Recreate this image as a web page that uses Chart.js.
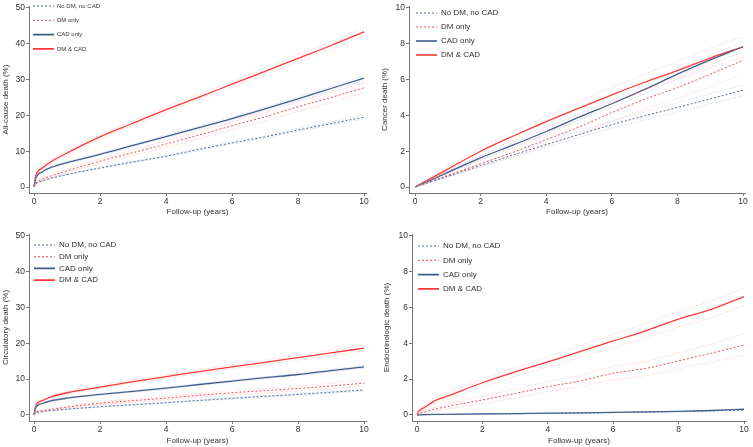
<!DOCTYPE html>
<html>
<head>
<meta charset="utf-8">
<script src="https://cdn.jsdelivr.net/npm/chart.js@4.4.1/dist/chart.umd.min.js"></script>
<style>
  body { margin: 0; background: #fff; width: 753px; height: 447px; overflow: hidden; position: relative; }
  canvas { position: absolute; }
</style>
</head>
<body>
<canvas id="c1" width="376" height="223" style="left:0;top:0;width:376px;height:223px"></canvas>
<canvas id="c2" width="377" height="223" style="left:376px;top:0;width:377px;height:223px"></canvas>
<canvas id="c3" width="376" height="224" style="left:0;top:223px;width:376px;height:224px"></canvas>
<canvas id="c4" width="377" height="224" style="left:376px;top:223px;width:377px;height:224px"></canvas>
<script>
// follow-up time points (years)
const years = [0, 0.05, 0.25, 0.5, 1, 2, 3, 4, 5, 6, 7, 8, 9, 10];
const groups = ['No DM, no CAD', 'DM only', 'CAD only', 'DM & CAD'];
const xTicks = [0, 2, 4, 6, 8, 10];
const yTicks50 = [0, 10, 20, 30, 40, 50];
const yTicks10 = [0, 2, 4, 6, 8, 10];

// all-cause death (%)
const allNoDm   = [0, 0.8, 1.7, 2.4, 3.5, 5.3, 7.0, 8.6, 10.5, 12.3, 14.0, 15.9, 17.7, 19.5];
const allNoDmLo = [0, 0.7, 1.6, 2.3, 3.4, 5.1, 6.8, 8.4, 10.2, 12.0, 13.7, 15.5, 17.3, 19.0];
const allNoDmHi = [0, 0.9, 1.8, 2.5, 3.6, 5.5, 7.2, 8.8, 10.8, 12.6, 14.3, 16.3, 18.1, 20.0];
const allDm     = [0, 1.0, 2.2, 3.0, 4.5, 7.2, 9.6, 12.0, 14.5, 17.1, 19.6, 22.4, 25.0, 27.7];
const allDmLo   = [0, 0.8, 1.9, 2.6, 4.0, 6.5, 8.8, 11.1, 13.5, 16.0, 18.4, 21.1, 23.6, 26.3];
const allDmHi   = [0, 1.2, 2.5, 3.4, 5.0, 7.9, 10.4, 12.9, 15.5, 18.2, 20.8, 23.7, 26.4, 29.1];
const allCad    = [0, 2.3, 4.2, 5.4, 6.8, 9.1, 11.6, 14.1, 16.6, 19.1, 21.8, 24.6, 27.5, 30.4];
const allCadLo  = [0, 2.1, 4.0, 5.2, 6.5, 8.8, 11.3, 13.7, 16.2, 18.7, 21.3, 24.0, 26.9, 29.7];
const allCadHi  = [0, 2.5, 4.4, 5.6, 7.1, 9.4, 11.9, 14.5, 17.0, 19.5, 22.3, 25.2, 28.1, 31.1];
const allBoth   = [0, 3.0, 5.3, 7.0, 9.5, 14.0, 17.8, 21.6, 25.1, 28.7, 32.3, 35.9, 39.5, 43.3];
const allBothLo = [0, 2.6, 4.8, 6.5, 9.0, 13.4, 17.1, 20.8, 24.3, 27.8, 31.3, 34.9, 38.4, 42.2];
const allBothHi = [0, 3.4, 5.8, 7.5, 10.0, 14.6, 18.5, 22.4, 25.9, 29.6, 33.3, 36.9, 40.6, 44.4];

// cancer death (%)
const canNoDm   = [0, 0.03, 0.15, 0.3, 0.6, 1.2, 1.8, 2.37, 2.93, 3.48, 3.97, 4.44, 4.92, 5.4];
const canNoDmLo = [0, 0.025, 0.14, 0.28, 0.56, 1.12, 1.68, 2.22, 2.75, 3.27, 3.73, 4.18, 4.64, 5.1];
const canNoDmHi = [0, 0.035, 0.16, 0.32, 0.64, 1.28, 1.92, 2.52, 3.11, 3.69, 4.21, 4.7, 5.2, 5.7];
const canDm     = [0, 0.03, 0.16, 0.33, 0.65, 1.3, 1.95, 2.65, 3.35, 4.15, 4.9, 5.55, 6.3, 7.07];
const canDmLo   = [0, 0.025, 0.13, 0.27, 0.55, 1.12, 1.7, 2.32, 2.95, 3.67, 4.35, 4.93, 5.6, 6.3];
const canDmHi   = [0, 0.035, 0.19, 0.39, 0.75, 1.48, 2.2, 2.98, 3.75, 4.63, 5.45, 6.17, 7.0, 7.85];
const canCad    = [0, 0.04, 0.2, 0.4, 0.82, 1.63, 2.35, 3.1, 3.9, 4.65, 5.45, 6.3, 7.1, 7.83];
const canCadLo  = [0, 0.035, 0.18, 0.37, 0.76, 1.53, 2.22, 2.95, 3.72, 4.45, 5.22, 6.05, 6.83, 7.55];
const canCadHi  = [0, 0.045, 0.22, 0.43, 0.88, 1.73, 2.48, 3.25, 4.08, 4.85, 5.68, 6.55, 7.37, 8.1];
const canBoth   = [0, 0.05, 0.25, 0.5, 1.0, 2.0, 2.85, 3.65, 4.4, 5.15, 5.85, 6.5, 7.2, 7.83];
const canBothLo = [0, 0.04, 0.21, 0.43, 0.88, 1.8, 2.6, 3.35, 4.05, 4.75, 5.4, 6.0, 6.65, 7.25];
const canBothHi = [0, 0.06, 0.29, 0.57, 1.12, 2.2, 3.1, 3.95, 4.75, 5.55, 6.3, 7.0, 7.75, 8.4];

// circulatory death (%)
const cirNoDm   = [0, 0.5, 0.9, 1.2, 1.6, 2.3, 2.85, 3.43, 4.05, 4.64, 5.2, 5.75, 6.35, 6.95];
const cirNoDmLo = [0, 0.45, 0.85, 1.12, 1.5, 2.18, 2.71, 3.27, 3.87, 4.44, 4.98, 5.51, 6.09, 6.67];
const cirNoDmHi = [0, 0.55, 0.95, 1.28, 1.7, 2.42, 2.99, 3.59, 4.23, 4.84, 5.42, 5.99, 6.61, 7.23];
const cirDm     = [0, 0.7, 1.2, 1.5, 2.2, 3.25, 4.0, 4.7, 5.5, 6.2, 6.8, 7.4, 8.1, 8.9];
const cirDmLo   = [0, 0.55, 1.0, 1.3, 1.9, 2.85, 3.55, 4.2, 4.95, 5.6, 6.15, 6.7, 7.35, 8.05];
const cirDmHi   = [0, 0.85, 1.4, 1.7, 2.5, 3.65, 4.45, 5.2, 6.05, 6.8, 7.45, 8.1, 8.85, 9.75];
const cirCad    = [0, 2.0, 3.2, 3.9, 4.7, 5.75, 6.6, 7.5, 8.5, 9.46, 10.4, 11.3, 12.4, 13.45];
const cirCadLo  = [0, 1.85, 3.05, 3.75, 4.5, 5.55, 6.38, 7.26, 8.24, 9.18, 10.1, 10.98, 12.05, 13.08];
const cirCadHi  = [0, 2.15, 3.35, 4.05, 4.9, 5.95, 6.82, 7.74, 8.76, 9.74, 10.7, 11.62, 12.75, 13.82];
const cirBoth   = [0, 2.5, 4.0, 5.0, 6.2, 7.8, 9.3, 10.7, 12.1, 13.45, 14.7, 16.0, 17.3, 18.65];
const cirBothLo = [0, 2.2, 3.7, 4.7, 5.8, 7.4, 8.85, 10.2, 11.55, 12.85, 14.05, 15.3, 16.55, 17.9];
const cirBothHi = [0, 2.8, 4.3, 5.3, 6.6, 8.2, 9.75, 11.2, 12.65, 14.05, 15.35, 16.7, 18.05, 19.45];

// endocrinologic death (%)
const endNoDm   = [0, 0.003, 0.012, 0.02, 0.03, 0.05, 0.07, 0.09, 0.11, 0.13, 0.16, 0.19, 0.23, 0.28];
const endDm     = [0, 0.05, 0.18, 0.3, 0.5, 0.84, 1.2, 1.58, 1.9, 2.33, 2.6, 3.02, 3.45, 3.91];
const endDmLo   = [0, 0.02, 0.1, 0.18, 0.35, 0.64, 0.95, 1.3, 1.58, 1.96, 2.2, 2.57, 2.95, 3.32];
const endDmHi   = [0, 0.08, 0.26, 0.42, 0.65, 1.04, 1.45, 1.86, 2.22, 2.7, 3.0, 3.47, 3.95, 4.55];
const endCad    = [0, 0.005, 0.02, 0.03, 0.04, 0.06, 0.08, 0.1, 0.12, 0.15, 0.17, 0.2, 0.25, 0.32];
const endBoth   = [0, 0.2, 0.45, 0.75, 1.1, 1.8, 2.4, 2.96, 3.55, 4.13, 4.7, 5.35, 5.9, 6.61];
const endBothLo = [0, 0.12, 0.33, 0.6, 0.92, 1.58, 2.15, 2.67, 3.22, 3.77, 4.3, 4.92, 5.44, 6.12];
const endBothHi = [0, 0.28, 0.57, 0.9, 1.28, 2.02, 2.65, 3.25, 3.88, 4.49, 5.1, 5.78, 6.36, 7.1];

const FONT = 'Liberation Sans, Arial, sans-serif';
const TXT = '#333';
const AXIS = '#777';
const styles = [
  { color: '#4d6c9b', dash: [2, 2], width: 1, ci: 'rgba(140,160,200,0.5)' },
  { color: '#ff4848', dash: [2, 2], width: 1, ci: 'rgba(255,140,140,0.55)' },
  { color: '#3e5c88', dash: [], width: 1.3, ci: 'rgba(140,160,200,0.5)' },
  { color: '#ff3838', dash: [], width: 1.3, ci: 'rgba(255,140,140,0.55)' }
];

const pts = vals => vals.map((v, i) => ({ x: years[i], y: v }));

// moves the chartArea legend to where the figure has it
const legendShift = {
  id: 'legendShift',
  afterLayout(chart, args, opts) {
    const lg = chart.legend;
    if (!lg) return;
    const pad = lg.options.labels.padding;
    const fs = lg.options.labels.font.size;
    const dx = opts.x - (lg.left + pad);
    const dy = opts.y - fs / 2 - (lg.top + pad);
    lg.left += dx; lg.right += dx; lg.top += dy; lg.bottom += dy;
  }
};

function legendLabels(chart) {
  return chart.data.datasets
    .map((ds, i) => ({ ds, i }))
    .filter(o => o.ds.label !== '')
    .map(o => ({
      text: o.ds.label,
      datasetIndex: o.i,
      strokeStyle: o.ds.borderColor,
      fillStyle: o.ds.borderColor,
      lineWidth: o.ds.legendWidth,
      lineDash: o.ds.borderDash,
      pointStyle: 'line',
      fontColor: TXT,
      hidden: false
    }));
}

function makeChart(id, p) {
  const datasets = [];
  // confidence limits first so the estimates sit on top
  p.series.forEach((s, i) => {
    [s.lo, s.hi].forEach(b => {
      if (!b) return;
      datasets.push({
        label: '', data: pts(b), borderColor: styles[i].ci, borderWidth: 0.9,
        borderDash: [1, 1.5], pointRadius: 0, cubicInterpolationMode: 'monotone'
      });
    });
  });
  p.series.forEach((s, i) => {
    datasets.push({
      label: groups[i], data: pts(s.mid), borderColor: styles[i].color,
      backgroundColor: styles[i].color, borderWidth: styles[i].width,
      legendWidth: styles[i].dash.length ? 1 : 1.6,
      borderDash: styles[i].dash, pointRadius: 0,
      cubicInterpolationMode: 'monotone'
    });
  });

  new Chart(document.getElementById(id), {
    type: 'line',
    data: { datasets: datasets },
    options: {
      responsive: false,
      animation: false,
      layout: { padding: { top: p.top, right: p.right, left: 0, bottom: 0 } },
      plugins: {
        legend: {
          position: 'chartArea',
          align: 'start',
          labels: {
            generateLabels: legendLabels,
            usePointStyle: true,
            pointStyleWidth: 21,
            padding: p.lg.gap - p.lg.size,
            color: TXT,
            font: { family: FONT, size: p.lg.size }
          }
        },
        legendShift: { x: p.lg.x, y: p.lg.y },
        tooltip: { enabled: false }
      },
      scales: {
        x: {
          type: 'linear', min: p.xMin, max: 10.06,
          afterBuildTicks: sc => { sc.ticks = xTicks.map(v => ({ value: v })); },
          afterFit: sc => { sc.height = p.xH; },
          grid: { drawOnChartArea: false, drawTicks: true, tickLength: 3, color: AXIS },
          border: { display: true, color: AXIS },
          ticks: { color: TXT, font: { family: FONT, size: 8.5 }, padding: 1, maxRotation: 0 },
          title: { display: true, text: 'Follow-up (years)', color: TXT,
                   font: { family: FONT, size: 8 }, padding: { top: 0, bottom: p.xTitlePad } }
        },
        y: {
          type: 'linear', min: p.yMin, max: p.yMax,
          afterBuildTicks: sc => { sc.ticks = p.yTicks.map(v => ({ value: v })); },
          afterFit: sc => { sc.width = p.yW; },
          grid: { drawOnChartArea: false, drawTicks: true, tickLength: 3, color: AXIS },
          border: { display: true, color: AXIS },
          ticks: { color: TXT, font: { family: FONT, size: 8.5 }, padding: 1 },
          title: { display: true, text: p.yTitle, color: TXT,
                   font: { family: FONT, size: 8 }, padding: { top: p.yTitlePad, bottom: 0 } }
        }
      }
    },
    plugins: [legendShift]
  });
}

makeChart('c1', {
  yTitle: 'All-cause death (%)', yTicks: yTicks50, yMin: -1.67, yMax: 50.5,
  xMin: -0.152, top: 5, right: 10, yW: 29, xH: 30, xTitlePad: 6.5, yTitlePad: 1,
  lg: { size: 6, gap: 14.3, x: 33, y: 6 },
  series: [
    { mid: allNoDm, lo: allNoDmLo, hi: allNoDmHi },
    { mid: allDm, lo: allDmLo, hi: allDmHi },
    { mid: allCad, lo: allCadLo, hi: allCadHi },
    { mid: allBoth, lo: allBothLo, hi: allBothHi }
  ]
});

makeChart('c2', {
  yTitle: 'Cancer death (%)', yTicks: yTicks10, yMin: -0.333, yMax: 10.1,
  xMin: -0.183, top: 5, right: 8, yW: 33, xH: 30, xTitlePad: 6.5, yTitlePad: 4,
  lg: { size: 8, gap: 14, x: 40, y: 13 },
  series: [
    { mid: canNoDm, lo: canNoDmLo, hi: canNoDmHi },
    { mid: canDm, lo: canDmLo, hi: canDmHi },
    { mid: canCad, lo: canCadLo, hi: canCadHi },
    { mid: canBoth, lo: canBothLo, hi: canBothHi }
  ]
});

makeChart('c3', {
  yTitle: 'Circulatory death (%)', yTicks: yTicks50, yMin: -1.68, yMax: 50.5,
  xMin: -0.152, top: 11, right: 10, yW: 29, xH: 26, xTitlePad: 1, yTitlePad: 1,
  lg: { size: 8, gap: 11.7, x: 34, y: 22 },
  series: [
    { mid: cirNoDm, lo: cirNoDmLo, hi: cirNoDmHi },
    { mid: cirDm, lo: cirDmLo, hi: cirDmHi },
    { mid: cirCad, lo: cirCadLo, hi: cirCadHi },
    { mid: cirBoth, lo: cirBothLo, hi: cirBothHi }
  ]
});

makeChart('c4', {
  yTitle: 'Endocrinologic death (%)', yTicks: yTicks10, yMin: -0.335, yMax: 10.1,
  xMin: -0.153, top: 11, right: 7, yW: 36, xH: 26, xTitlePad: 1, yTitlePad: 6,
  lg: { size: 8, gap: 14.3, x: 42, y: 23 },
  series: [
    { mid: endNoDm },
    { mid: endDm, lo: endDmLo, hi: endDmHi },
    { mid: endCad },
    { mid: endBoth, lo: endBothLo, hi: endBothHi }
  ]
});
</script>
</body>
</html>
